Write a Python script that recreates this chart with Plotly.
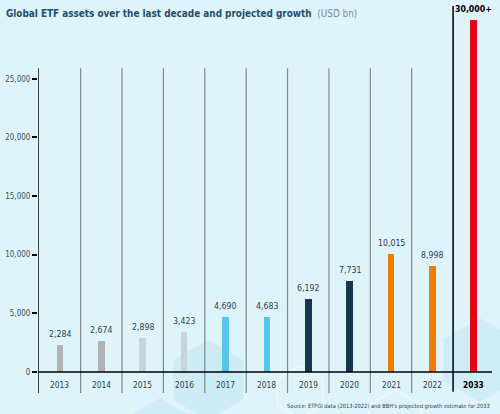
import plotly.graph_objects as go

# ==============================================================================
# Data
# ==============================================================================
years = ['2013', '2014', '2015', '2016', '2017', '2018', '2019', '2020', '2021', '2022', '2033']
assets = [2284, 2674, 2898, 3423, 4690, 4683, 6192, 7731, 10015, 8998, 30000]
valueLabels = ['2,284', '2,674', '2,898', '3,423', '4,690', '4,683', '6,192', '7,731', '10,015', '8,998', '<b>30,000+</b>']
yearLabels = years[:-1] + ['<b>2033</b>']
barColors = ['#b2b2b2', '#b2b2b2', '#c3d6de', '#c3d6de', '#56c6e8', '#56c6e8',
             '#15374b', '#15374b', '#ef7d00', '#ef7d00', '#e30613']
yTicks = [0, 5000, 10000, 15000, 20000, 25000]
yTickText = ['0', '5,000', '10,000', '15,000', '20,000', '25,000']

font = "Liberation Sans Narrow, DejaVu Sans Condensed, Roboto, sans-serif"
bg = '#dff4fa'
txtCol = '#2b3f4f'

# ==============================================================================
# Helpers
# ==============================================================================
def hexPath(cx, cy, r):
    # pointy-top hexagon given in page pixels, returned in paper units
    pts = [(cx, cy - r), (cx + 0.87 * r, cy - r / 2), (cx + 0.87 * r, cy + r / 2),
           (cx, cy + r), (cx - 0.87 * r, cy + r / 2), (cx - 0.87 * r, cy - r / 2)]
    pts = [((px - 38) / 454, (393 - py) / 387) for px, py in pts]
    return 'M ' + ' L '.join('%.4f,%.4f' % p for p in pts) + ' Z'

# ==============================================================================
# Plotting
# ==============================================================================
fig = go.Figure()
fig.add_trace(go.Bar(x=list(range(len(years))), y=assets, width=0.16, marker=dict(color=barColors, line=dict(width=0)),
                     cliponaxis=False, hoverinfo='skip'))

# ------------------------------------------
# Value labels above the bars
# ------------------------------------------
for i, (v, lab) in enumerate(zip(assets, valueLabels)):
    fig.add_annotation(xref='x', yref='y', x=i, y=v, yshift=11, text=lab, showarrow=False,
                       font=dict(family=font, size=8.7, color='#000000' if i == 10 else txtCol))

# ------------------------------------------
# Faint background hexagons
# ------------------------------------------
shapes = []
for cx, cy, r, fill, edge in [(208, 380, 40, 'rgba(196,232,244,0.7)', 'rgba(0,0,0,0)'),
                              (160, 430, 32, 'rgba(196,232,244,0.6)', 'rgba(0,0,0,0)'),
                              (300, 392, 26, 'rgba(0,0,0,0)', 'rgba(240,250,253,0.9)'),
                              (480, 360, 42, 'rgba(200,234,245,0.7)', 'rgba(0,0,0,0)'),
                              (395, 420, 30, 'rgba(0,0,0,0)', 'rgba(240,250,253,0.9)')]:
    shapes.append(dict(type='path', xref='paper', yref='paper', layer='below', path=hexPath(cx, cy, r),
                       fillcolor=fill, line=dict(color=edge, width=1.5)))

# ------------------------------------------
# Separators and axis lines
# ------------------------------------------
for i in range(9):
    shapes.append(dict(type='line', xref='x', yref='y', x0=i + 0.5, x1=i + 0.5, y0=-1800, y1=25900,
                       line=dict(color='#7d8a90', width=1.2)))
shapes.append(dict(type='line', xref='x', yref='y', x0=9.5, x1=9.5, y0=-1700, y1=31200,
                   line=dict(color='#000000', width=1.5)))
shapes.append(dict(type='line', xref='x', yref='y', x0=-0.53, x1=-0.53, y0=-1800, y1=25900,
                   line=dict(color='#000000', width=1.5)))
shapes.append(dict(type='line', xref='x', yref='y', x0=-0.53, x1=10.44, y0=0, y1=0,
                   line=dict(color='#000000', width=1.5)))

fig.update_layout(shapes=shapes)

# ------------------------------------------
# Year labels (sit just under the zero line)
# ------------------------------------------
for i, lab in enumerate(yearLabels):
    fig.add_annotation(xref='x', yref='y', x=i, y=0, yshift=-13, text=lab, showarrow=False,
                       font=dict(family=font, size=8.3, color='#000000' if i == 10 else txtCol))

# ==============================================================================
# Axis
# ==============================================================================
fig.update_xaxes(range=[-0.53, 10.44], showticklabels=False,
                 showgrid=False, zeroline=False, showline=False, ticks='', automargin=False, fixedrange=True)
fig.update_yaxes(range=[-1800, 31200], tickmode='array', tickvals=yTicks, ticktext=yTickText,
                 showgrid=False, zeroline=False, showline=False, ticks='outside', ticklen=5, tickwidth=1.5,
                 tickcolor='#000000', tickfont=dict(family=font, size=8, color='#3e4e5a'), fixedrange=True,
                 automargin=False)

# ==============================================================================
# Title and notes
# ==============================================================================
fig.add_annotation(xref='paper', yref='paper', x=-34 / 454, y=1, yshift=0, xanchor='left', yanchor='top',
                   text="<b>Global ETF assets over the last decade and projected growth</b>  <span style='color:#7a8c96'>(USD bn)</span>",
                   showarrow=False, font=dict(family=font, size=9.9, color='#1d4f6e'))
fig.add_annotation(xref='paper', yref='paper', x=1, y=0, yshift=-8, xanchor='right', yanchor='top',
                   text="Source: ETFGI data (2013-2022) and BBH's projected growth estimate for 2033",
                   showarrow=False, font=dict(family=font, size=5.7, color=txtCol))

fig.update_layout(width=500, height=414, margin=dict(l=38, r=8, t=6, b=21, autoexpand=False),
                  paper_bgcolor=bg, plot_bgcolor='rgba(0,0,0,0)', showlegend=False, bargap=0)

fig.write_html("out.html", config={'displayModeBar': False}, post_script="document.body.style.margin='0';")
